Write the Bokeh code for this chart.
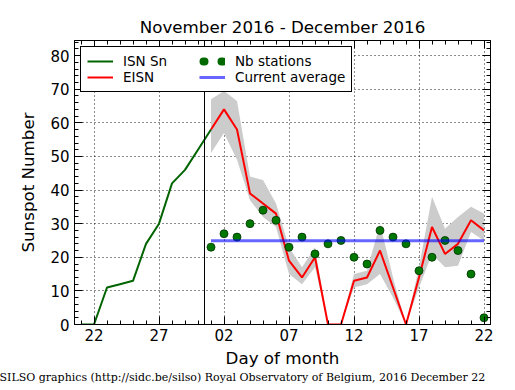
from bokeh.plotting import figure
from bokeh.models import (FixedTicker, LinearAxis, Span, Legend, LegendItem, Title, Range1d,
                          ColumnDataSource)
from bokeh.embed import file_html
from bokeh.resources import INLINE

# Day index: November d -> d, December d -> 30 + d
isn_days = [21, 22, 23, 24, 25, 26, 27, 28, 29, 30, 31]
isn_values = [0, 0, 11, 12, 13, 24, 30, 42, 46, 52, 58]

eisn_days = [31, 32, 33, 34, 35, 36, 37, 38, 39, 40, 41, 42, 43, 44, 45, 46, 47, 48, 49, 50, 51, 52]
eisn_values = [58, 64, 58, 39, 36, 33, 19, 14, 20, 0, 0, 13, 14, 22, 11, 0, 14, 29, 21, 24, 31, 28]
eisn_lower = [51, 57, 49, 37, 32, 29, 15, 12, 17, 0, 0, 11, 12, 15, 8, 0, 11, 21, 17, 17.5, 27.5, 25]
eisn_upper = [67, 69.5, 66.5, 44, 43, 36, 23, 17, 23, 0, 0, 15, 16, 30, 14, 0, 17, 38, 28.5, 32, 35, 33]
nb_stations = [23, 27, 26, 30, 34, 31, 23, 26, 21, 24, 25, 20, 18, 28, 26, 24, 16, 20, 25, 22, 15, 2]

avg_days = [31, 52]
avg_values = [24.9, 24.9]

x_ticks = [22, 27, 32, 37, 42, 47, 52]
x_tick_labels = ["22", "27", "02", "07", "12", "17", "22"]
x_minor = list(range(21, 53))
y_ticks = [0, 10, 20, 30, 40, 50, 60, 70, 80]
y_minor = list(range(0, 85, 2))
month_boundary = 30.5

title_text = "November 2016 - December 2016"
footer_text = "SILSO graphics (http://sidc.be/silso) Royal Observatory of Belgium, 2016 December 22"

FONT = "DejaVu Sans"

p = figure(width=515, height=390, output_backend="svg", toolbar_location=None,
           x_range=Range1d(20.5, 52.5), y_range=Range1d(0, 84.5),
           min_border_left=74, min_border_right=25, min_border_top=40, min_border_bottom=66,
           x_axis_label="Day of month", y_axis_label="Sunspot Number")
p.background_fill_color = "white"
p.border_fill_color = "white"
p.outline_line_color = "black"
p.outline_line_width = 1

p.title.text = title_text
p.title.align = "center"
p.title.text_font = FONT
p.title.text_font_size = "16.7px"
p.title.text_font_style = "normal"
p.title.text_color = "black"
p.title.standoff = 7

xt = FixedTicker(ticks=x_ticks, minor_ticks=x_minor)
yt = FixedTicker(ticks=y_ticks, minor_ticks=y_minor)
overrides = {t: l for t, l in zip(x_ticks, x_tick_labels)}


def style_axis(ax):
    ax.major_tick_in = 8
    ax.major_tick_out = 0
    ax.minor_tick_in = 4
    ax.minor_tick_out = 0
    ax.axis_line_color = "black"
    ax.major_tick_line_color = "black"
    ax.minor_tick_line_color = "black"
    ax.major_label_text_font = FONT
    ax.major_label_text_font_size = "15px"
    ax.major_label_text_color = "black"
    ax.axis_label_text_font = FONT
    ax.axis_label_text_font_size = "16.7px"
    ax.axis_label_text_font_style = "normal"
    ax.axis_label_text_color = "black"


p.xaxis.ticker = xt
p.xaxis.major_label_overrides = overrides
p.yaxis.ticker = yt
style_axis(p.xaxis[0])
style_axis(p.yaxis[0])
p.xaxis.major_label_standoff = 4
p.yaxis.major_label_standoff = 5
p.xaxis.axis_label_standoff = 4
p.yaxis.axis_label_standoff = 9

top_ax = LinearAxis(ticker=FixedTicker(ticks=x_ticks, minor_ticks=x_minor))
right_ax = LinearAxis(ticker=FixedTicker(ticks=y_ticks, minor_ticks=y_minor))
style_axis(top_ax)
style_axis(right_ax)
top_ax.major_label_overrides = {t: "" for t in x_ticks}
right_ax.major_label_overrides = {t: "" for t in y_ticks}
top_ax.major_label_standoff = 0
right_ax.major_label_standoff = 0
p.add_layout(top_ax, "above")
p.add_layout(right_ax, "right")

for g in (p.xgrid[0], p.ygrid[0]):
    g.grid_line_color = "black"
    g.grid_line_dash = "1 3"
    g.grid_line_width = 1
    g.grid_line_alpha = 0.9
p.xgrid.ticker = xt
p.ygrid.ticker = yt

p.varea(x=eisn_days, y1=eisn_lower, y2=eisn_upper, fill_color="#cccccc", fill_alpha=1.0)
r_eisn = p.line(eisn_days, eisn_values, line_color="#ff0000", line_width=2)
r_isn = p.line(isn_days, isn_values, line_color="#006400", line_width=2)
st_src = ColumnDataSource(data=dict(day=eisn_days, nb=nb_stations))
r_st = p.scatter("day", "nb", source=st_src, size=8, fill_color="#007800",
                 line_color="#003000", line_width=0.8)
r_avg = p.line(avg_days, avg_values, line_color="blue", line_alpha=0.6, line_width=3)

p.add_layout(Span(location=month_boundary, dimension="height", line_color="black", line_width=1))

# hidden renderer used only for the legend's two-dot station marker
r_dots = p.line("day", "nb", source=st_src, line_color="#006a00",
                line_width=8, line_dash="1 17", line_dash_offset=14, line_cap="round",
                visible=False)

legend = Legend(items=[
    LegendItem(label="ISN Sn", renderers=[r_isn]),
    LegendItem(label="EISN", renderers=[r_eisn]),
    LegendItem(label="Nb stations", renderers=[r_dots]),
    LegendItem(label="Current average", renderers=[r_avg]),
], ncols=2, location="top_left")
legend.margin = 6
legend.padding = 6
legend.spacing = -5
legend.glyph_width = 26
legend.glyph_height = 14
legend.label_height = 14
legend.label_width = 76
legend.label_standoff = 10
legend.label_text_font = FONT
legend.label_text_font_size = "13.5px"
legend.label_text_color = "black"
legend.border_line_color = "black"
legend.border_line_width = 1
legend.border_line_alpha = 1.0
legend.background_fill_color = "white"
legend.background_fill_alpha = 1.0
legend.inactive_fill_alpha = 0.0
p.add_layout(legend)

footer = Title(text=footer_text, align="left", text_font="DejaVu Serif",
               text_font_size="11px", text_font_style="normal", text_color="black",
               offset=-75, standoff=0, vertical_align="top")
p.add_layout(footer, "below")

open("out.html", "w").write(file_html(p, INLINE))
